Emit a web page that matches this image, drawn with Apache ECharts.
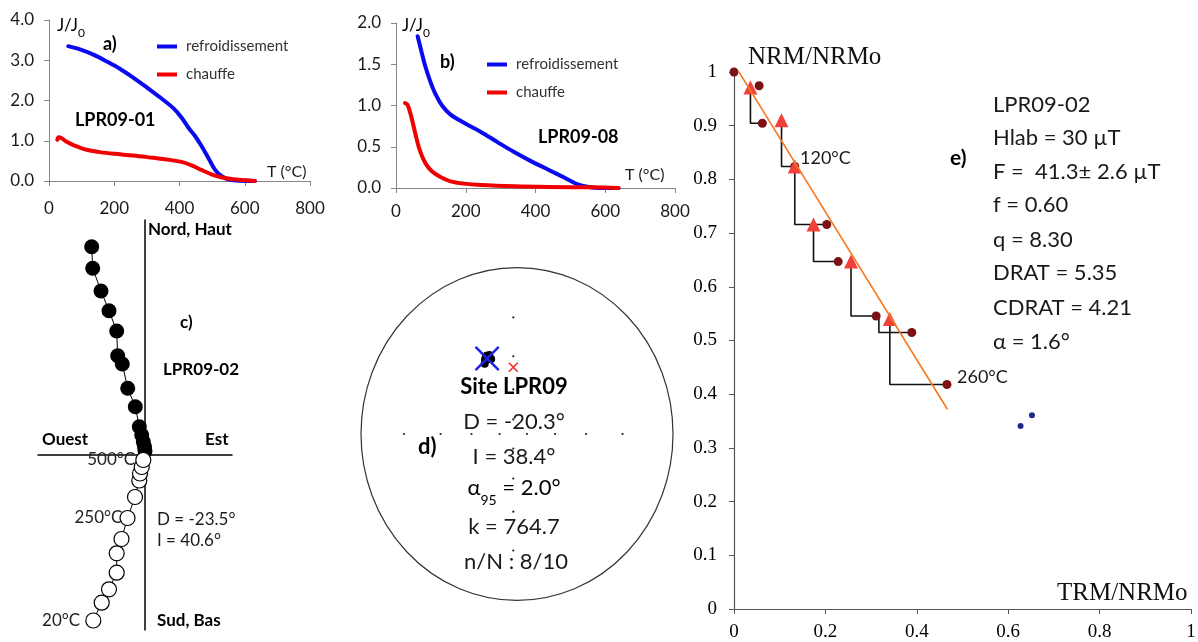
<!DOCTYPE html>
<html><head><meta charset="utf-8">
<script src="https://cdn.jsdelivr.net/npm/echarts@6/dist/echarts.min.js"></script>
<style>html,body{margin:0;padding:0;background:#fff}#c{width:1198px;height:642px}</style>
</head><body><div id="c"></div>
<script>
// ---------- Panel a : LPR09-01 thermomagnetic curves ----------
const aCoolT = [59, 95, 136, 177, 217, 258, 299, 340, 381, 406, 427, 447, 467, 488, 508, 528, 549, 574, 631];
const aCoolJ = [3.35, 3.27, 3.14, 2.97, 2.79, 2.57, 2.33, 2.08, 1.81, 1.58, 1.33, 1.125, 0.875, 0.58, 0.29, 0.125, 0.04, 0.01, 0];
const aHeatT = [25.5, 29.6, 39, 54, 80, 115, 156, 200, 258, 319, 370, 406, 437, 467, 498, 528, 564, 605, 631];
const aHeatJ = [1.025, 1.09, 1.06, 0.975, 0.875, 0.775, 0.717, 0.675, 0.633, 0.575, 0.525, 0.475, 0.39, 0.275, 0.167, 0.092, 0.042, 0.017, 0];
// ---------- Panel b : LPR09-08 thermomagnetic curves ----------
const bCoolT = [62, 71.5, 84, 98.5, 113, 132, 156.5, 195, 243.5, 292, 340, 388, 437, 485, 519, 553, 582, 638];
const bCoolJ = [1.84, 1.68, 1.475, 1.29, 1.14, 1.0, 0.89, 0.79, 0.68, 0.553, 0.432, 0.323, 0.222, 0.121, 0.048, 0.012, 0, 0];
const bHeatT = [26, 33, 43.5, 55, 67.6, 84, 103, 127.5, 156.5, 195, 243.5, 340, 437, 562, 638];
const bHeatJ = [1.03, 1.01, 0.87, 0.667, 0.465, 0.303, 0.202, 0.133, 0.081, 0.053, 0.036, 0.02, 0.012, 0.008, 0];
// ---------- Panel c : Zijderveld diagram LPR09-02 (arbitrary units) ----------
const zHorE = [-0.533, -0.523, -0.44, -0.36, -0.283, -0.273, -0.227, -0.173, -0.097, -0.057, -0.033, -0.017, -0.005, 0.0];
const zHorN = [2.076, 1.86, 1.633, 1.436, 1.233, 0.986, 0.903, 0.66, 0.476, 0.276, 0.193, 0.126, 0.076, 0.033];
const zVerE = [-0.517, -0.433, -0.36, -0.283, -0.283, -0.235, -0.175, -0.10, -0.057, -0.05, -0.033, -0.017];
const zVerU = [-1.662, -1.484, -1.35, -1.184, -0.99, -0.847, -0.637, -0.427, -0.262, -0.192, -0.127, -0.057];
const zStepLabels = ['20°C', '250°C', '500°C'];
const zStepIndex = [0, 6, 11];
// ---------- Panel d : site mean direction (stereonet, Wulff) ----------
const siteD = [-23.5, -21, -19, -18, -22, -20, -17.5, -20.5];
const siteI = [40.6, 37.5, 39, 37, 38.5, 36.8, 39.5, 38.9];
const meanDir = [-20.3, 38.4];
const refDir = [0, 46.3];
const netD = [0, 90, 180, 270];
const netI = [80, 60, 40, 20];
// ---------- Panel e : Arai diagram LPR09-02 ----------
const nrmTRM = [0, 0.055, 0.062, 0.133, 0.203, 0.228, 0.311, 0.389, 0.466];
const nrmNRM = [1.0, 0.9745, 0.9045, 0.824, 0.716, 0.647, 0.5456, 0.515, 0.418];
const checkX = [0.036, 0.104, 0.133, 0.174, 0.256, 0.317, 0.341];
const checkY = [0.971, 0.91, 0.824, 0.716, 0.647, 0.5456, 0.54];
const checkTo = [2, 3, 4, 5, 6, 7, 8];
const checkShown = [true, true, true, true, true, false, true];
const fitX = [0, 0.467];
const fitY = [1.015, 0.372];
const rejTRM = [0.627, 0.652];
const rejNRM = [0.341, 0.361];

const SANS = 'Lato, "Noto Sans", sans-serif';
const SERIF = '"Liberation Serif", "DejaVu Serif", serif';
const GRAY = '#868686';
const BLUE = '#0a0af0';
const RED = '#f00000';

const zip = (a, b) => a.map((v, i) => [v, b[i]]);
const rad = d => d * Math.PI / 180;
// Wulff (equal-angle) projection of a direction
const proj = (D, I) => { const r = Math.tan(rad((90 - I) / 2)); return [r * Math.sin(rad(D)), r * Math.cos(rad(D))]; };

const grids = [
  {left: 49, top: 20, width: 261, height: 161},
  {left: 396, top: 23, width: 279, height: 165},
  {left: 38, top: 220, width: 194, height: 410},
  {left: 357.3, top: 267.5, width: 312, height: 333},
  {left: 734, top: 72, width: 457, height: 537}
].map(g => Object.assign({containLabel: false, outerBoundsMode: 'none'}, g));

function tAxis(gi, margin) {
  return {type: 'value', gridIndex: gi, min: 0, max: 800, interval: 200,
    axisLine: {show: true, lineStyle: {color: GRAY}},
    axisTick: {show: true, length: 5, lineStyle: {color: GRAY}},
    axisLabel: {fontFamily: SANS, fontSize: 17, color: '#1a1a1a', margin: margin},
    splitLine: {show: false}};
}
function jAxis(gi, max, interval) {
  return {type: 'value', gridIndex: gi, min: 0, max: max, interval: interval,
    axisLine: {show: true, lineStyle: {color: GRAY}},
    axisTick: {show: true, length: 5, lineStyle: {color: GRAY}},
    axisLabel: {fontFamily: SANS, fontSize: 17, color: '#1a1a1a', margin: 15, formatter: v => v.toFixed(1)},
    splitLine: {show: false}};
}
const hidden = gi => ({type: 'value', gridIndex: gi, min: -1, max: 1, show: false});

const xAxes = [
  tAxis(0, 19), tAxis(1, 15),
  {type: 'value', gridIndex: 2, min: -1.07, max: 0.87, axisLine: {onZero: true, lineStyle: {color: '#000', width: 1.5}},
    axisTick: {show: false}, axisLabel: {show: false}, splitLine: {show: false}},
  hidden(3),
  {type: 'value', gridIndex: 4, min: 0, max: 1, interval: 0.2,
    axisLine: {lineStyle: {color: '#555', width: 1.2}}, axisTick: {show: true, length: 5, lineStyle: {color: '#555'}},
    axisLabel: {fontFamily: SERIF, fontSize: 19, color: '#000', margin: 14}, splitLine: {show: false}}
];
const yAxes = [
  jAxis(0, 4, 1), jAxis(1, 2, 0.5),
  {type: 'value', gridIndex: 2, min: -1.757, max: 2.343, axisLine: {onZero: true, lineStyle: {color: '#000', width: 1.5}},
    axisTick: {show: false}, axisLabel: {show: false}, splitLine: {show: false}},
  hidden(3),
  {type: 'value', gridIndex: 4, min: 0, max: 1, interval: 0.1,
    axisLine: {lineStyle: {color: '#555', width: 1.2}}, axisTick: {show: true, length: 5, lineStyle: {color: '#555'}},
    axisLabel: {fontFamily: SERIF, fontSize: 19, color: '#000', margin: 17}, splitLine: {show: false}}
];

const curve = (name, gi, xs, ys, color) => ({
  name: name, type: 'line', xAxisIndex: gi, yAxisIndex: gi, data: zip(xs, ys), smooth: 0.35,
  symbol: 'none', color: color, lineStyle: {color: color, width: 4, cap: 'round', join: 'round'}, z: 3
});

const XPATH = 'path://M0,0.7L0.7,0L10,9.3L9.3,10Z M9.3,0L10,0.7L0.7,10L0,9.3Z';
const XPATH2 = 'path://M0,1.1L1.1,0L10,8.9L8.9,10Z M8.9,0L10,1.1L1.1,10L0,8.9Z';

const netPts = [];
netD.forEach(D => netI.forEach(I => netPts.push(proj(D, I))));

const series = [
  curve('refroidissement', 0, aCoolT, aCoolJ, BLUE),
  curve('chauffe', 0, aHeatT, aHeatJ, RED),
  curve('refroidissement', 1, bCoolT, bCoolJ, BLUE),
  curve('chauffe', 1, bHeatT, bHeatJ, RED),
  // Zijderveld
  {type: 'line', xAxisIndex: 2, yAxisIndex: 2, data: zip(zHorE, zHorN), symbol: 'circle', symbolSize: 15,
    itemStyle: {color: '#000', opacity: 1}, lineStyle: {color: '#000', width: 1}, z: 3},
  {type: 'line', xAxisIndex: 2, yAxisIndex: 2, data: zip(zVerE, zVerU).map((p, i) => {
      const k = zStepIndex.indexOf(i);
      return k < 0 ? p : {value: p, label: {show: true, position: 'left', distance: k === 0 ? 5 : (k === 1 ? -3 : 0),
        formatter: zStepLabels[k], fontFamily: SANS, fontSize: 17, color: '#222'}};
    }), symbol: 'circle', symbolSize: 15,
    itemStyle: {color: '#fff', borderColor: '#000', borderWidth: 1.2, opacity: 1}, lineStyle: {color: '#000', width: 1}, z: 3},
  // Stereonet
  {type: 'scatter', xAxisIndex: 3, yAxisIndex: 3, data: netPts, symbol: 'circle', symbolSize: 2.2,
    itemStyle: {color: '#222', opacity: 1}, z: 2},
  {type: 'scatter', xAxisIndex: 3, yAxisIndex: 3, data: siteD.map((d, i) => proj(d, siteI[i])), symbol: 'circle', symbolSize: 8,
    itemStyle: {color: '#000', opacity: 1}, z: 3},
  {type: 'scatter', xAxisIndex: 3, yAxisIndex: 3, data: [proj(meanDir[0], meanDir[1])], symbol: XPATH, symbolSize: 25,
    itemStyle: {color: '#2020e6', opacity: 1}, z: 4},
  {type: 'scatter', xAxisIndex: 3, yAxisIndex: 3, data: [proj(refDir[0], refDir[1])], symbol: XPATH2, symbolSize: 10,
    itemStyle: {color: '#ee2a2a', opacity: 1}, z: 4}
];
// Arai: pTRM check step lines
checkX.forEach((x, k) => {
  const j = checkTo[k];
  series.push({type: 'line', xAxisIndex: 4, yAxisIndex: 4, symbol: 'none', z: 2,
    data: [[x, checkY[k]], [x, nrmNRM[j]], [nrmTRM[j], nrmNRM[j]]],
    lineStyle: {color: '#111', width: 1.6}});
});
series.push(
  {type: 'scatter', xAxisIndex: 4, yAxisIndex: 4, data: zip(nrmTRM, nrmNRM), symbol: 'circle', symbolSize: 9,
    itemStyle: {color: '#7a1214', opacity: 1}, z: 3},
  {type: 'scatter', xAxisIndex: 4, yAxisIndex: 4, data: zip(checkX, checkY).filter((p, i) => checkShown[i]),
    symbol: 'triangle', symbolSize: 14, itemStyle: {color: '#f2403a', opacity: 1}, z: 4},
  {type: 'scatter', xAxisIndex: 4, yAxisIndex: 4, data: zip(rejTRM, rejNRM), symbol: 'circle', symbolSize: 6,
    itemStyle: {color: '#1e2a86', opacity: 1}, z: 3},
  {type: 'line', xAxisIndex: 4, yAxisIndex: 4, data: zip(fitX, fitY), symbol: 'none',
    lineStyle: {color: '#f47a22', width: 1.6}, z: 5}
);

const legend = (left, top) => ({
  left: left, top: top, orient: 'vertical', icon: 'rect', itemWidth: 20, itemHeight: 4, itemGap: 11,
  textStyle: {fontFamily: SANS, fontSize: 15, color: '#333', lineHeight: 17, padding: [0, 0, 0, 4]},
  data: ['refroidissement', 'chauffe'], selectedMode: false
});

const T = (x, y, text, size, opts) => Object.assign({
  type: 'text', x: x, y: y, z: 10,
  style: Object.assign({text: text, fontFamily: SANS, fontSize: size, fontWeight: 'normal', fill: '#1a1a1a',
    textAlign: 'left', textVerticalAlign: 'middle'}, (opts || {}))
});
const B = (x, y, text, size, opts) => T(x, y, text, size, Object.assign({fontWeight: 'bold', fill: '#000'}, opts || {}));
const jj = (x, y) => ({type: 'text', x: x, y: y, z: 10, style: {text: '{a|J/J}{s|0}', textVerticalAlign: 'middle',
  rich: {a: {fontFamily: SANS, fontSize: 17, color: '#1a1a1a', lineHeight: 22, verticalAlign: 'top'},
         s: {fontFamily: SANS, fontSize: 12, color: '#1a1a1a', lineHeight: 22, verticalAlign: 'bottom'}}}});

const eLines = ['LPR09-02', 'Hlab = 30 µT', 'F =  41.3± 2.6 µT', 'f = 0.60', 'q = 8.30', 'DRAT = 5.35', 'CDRAT = 4.21', 'α = 1.6°'];
const eY = [105, 138, 172, 205, 240, 273, 308, 342];

const graphics = [
  // panel a
  jj(57, 28), B(103, 44, 'a)', 18), B(75, 120, 'LPR09-01', 18), T(267, 172, 'T (°C)', 16),
  // panel b
  jj(402, 28), B(440, 62, 'b)', 18), B(538, 137, 'LPR09-08', 18), T(625, 175, 'T (°C)', 16),
  // panel c
  B(148, 230, 'Nord, Haut', 17), B(180, 323, 'c)', 17), B(163, 370, 'LPR09-02', 17),
  B(42, 440, 'Ouest', 17), B(205, 440, 'Est', 17),
  T(157, 520, 'D = -23.5°', 17), T(157, 541, 'I = 40.6°', 17), B(157, 621, 'Sud, Bas', 17),
  // panel d
  {type: 'circle', x: 517, y: 434, scaleY: 1.067, shape: {cx: 0, cy: 0, r: 156}, z: 1,
    style: {fill: 'none', stroke: '#333', lineWidth: 1.2, strokeNoScale: true}},
  B(514, 387, 'Site LPR09', 22, {textAlign: 'center'}),
  T(514, 422, 'D = -20.3°', 22, {textAlign: 'center'}),
  T(514, 457, 'I = 38.4°', 22, {textAlign: 'center'}),
  {type: 'text', x: 514, y: 492, z: 10, style: {text: '{a|α}{s|95}{a| = 2.0°}', textAlign: 'center', textVerticalAlign: 'middle',
    rich: {a: {fontFamily: SANS, fontSize: 22, color: '#1a1a1a', lineHeight: 30, verticalAlign: 'top'},
           s: {fontFamily: SANS, fontSize: 14, color: '#1a1a1a', lineHeight: 30, verticalAlign: 'bottom'}}}},
  T(514, 527, 'k = 764.7', 22, {textAlign: 'center'}),
  T(516, 562, 'n/N : 8/10', 22, {textAlign: 'center'}),
  B(418, 447, 'd)', 22),
  // panel e
  T(748, 57, 'NRM/NRMo', 25, {fontFamily: SERIF, fill: '#111'}),
  T(1057, 593, 'TRM/NRMo', 25, {fontFamily: SERIF, fill: '#111'}),
  T(800, 158, '120°C', 18), T(957, 377, '260°C', 18),
  B(950, 158, 'e)', 21)
].concat(eLines.map((s, i) => T(993, eY[i], s, 22)));

const chart = echarts.init(document.getElementById('c'), null, {renderer: 'canvas'});
chart.setOption({
  animation: false,
  backgroundColor: '#fff',
  grid: grids,
  xAxis: xAxes,
  yAxis: yAxes,
  legend: [legend(152, 33), legend(482, 51)],
  series: series,
  graphic: graphics
});
</script>
</body></html>
